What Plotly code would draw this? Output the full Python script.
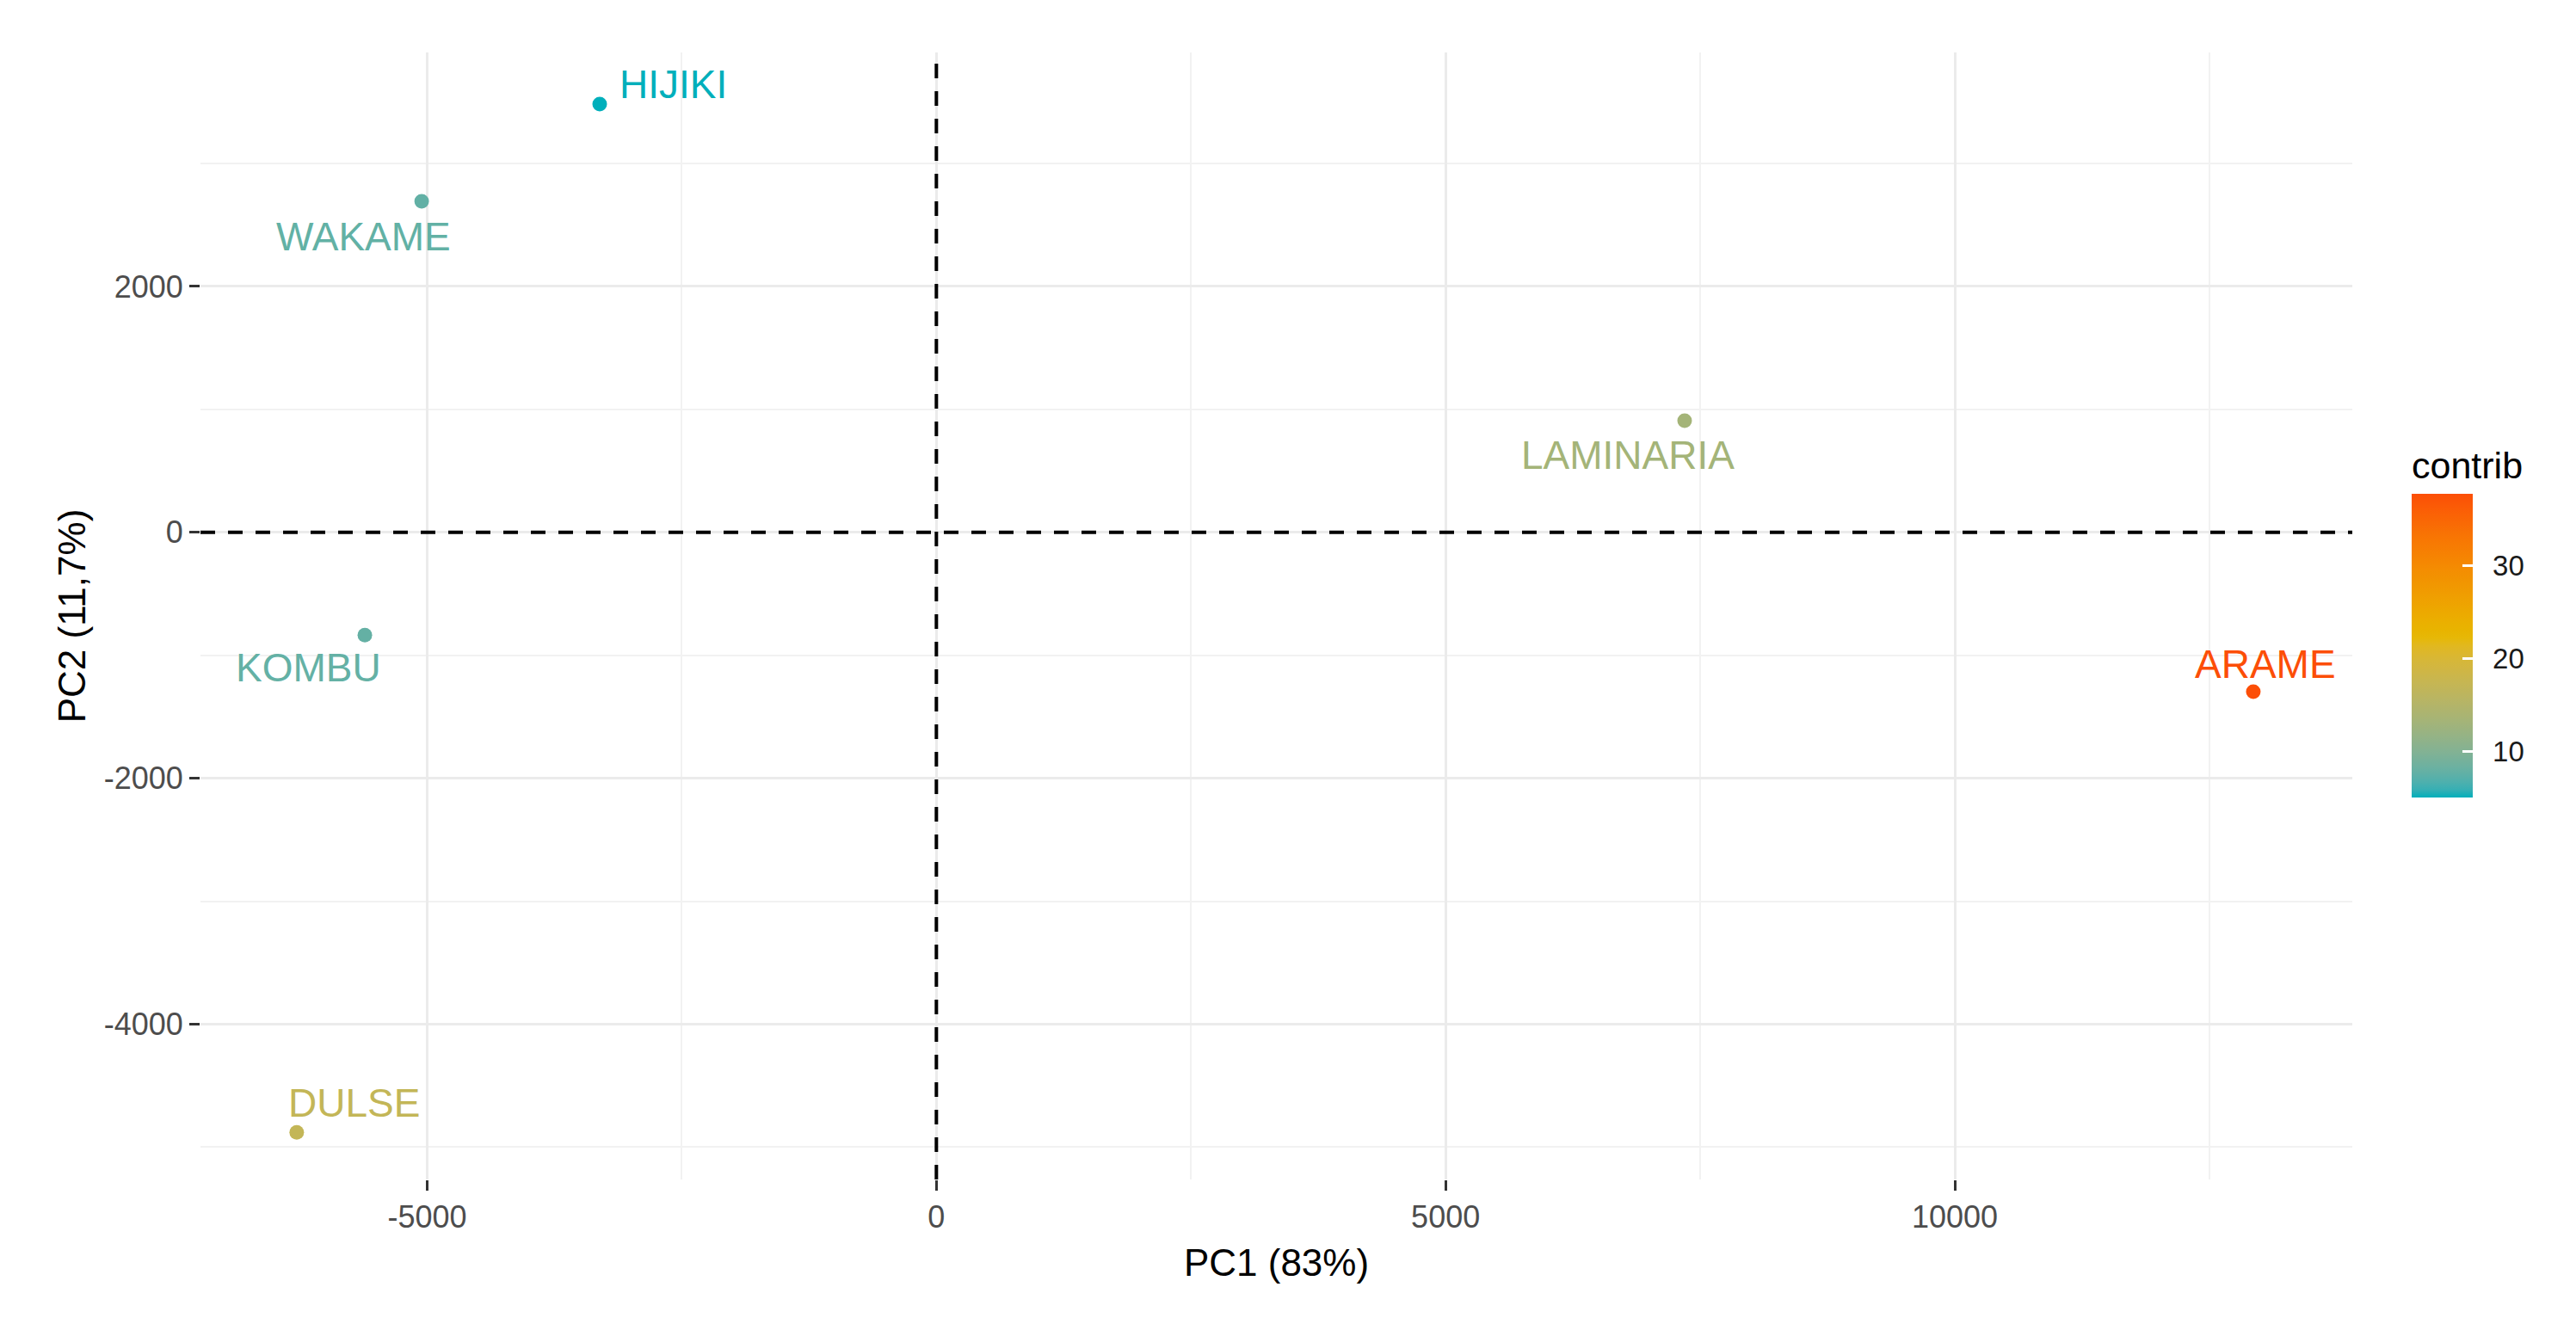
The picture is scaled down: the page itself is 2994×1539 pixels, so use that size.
import plotly.graph_objects as go

# ---- data ----
names = ["HIJIKI", "WAKAME", "KOMBU", "DULSE", "LAMINARIA", "ARAME"]
pc1 = [-3306, -5054, -5612, -6281, 7347, 12931]
pc2 = [3483, 2692, -835, -4880, 908, -1296]
contrib = [5.1, 7.8, 7.9, 17.0, 13.3, 37.7]

x_tickvals = [-5000, 0, 5000, 10000]
x_ticktext = ["-5000", "0", "5000", "10000"]
y_tickvals = [-4000, -2000, 0, 2000]
y_ticktext = ["-4000", "-2000", "0", "2000"]
cb_tickvals = [10, 20, 30]
cb_ticktext = ["10", "20", "30"]

# label offsets (pixels) relative to each point: (xshift, yshift, xanchor)
label_style = {
    "HIJIKI": (21, 23, "left"),
    "WAKAME": (-68, -41, "center"),
    "KOMBU": (-66, -38, "center"),
    "DULSE": (67, 34, "center"),
    "LAMINARIA": (-66, -40, "center"),
    "ARAME": (14, 32, "center"),
}

gradient_hex = ["#00AFBB", "#E7B800", "#FC4E07"]
gradient_pos = [0.0, 0.53, 1.0]


# ---- Lab interpolation (like ggplot's gradientn) ----
def _srgb_to_lin(c):
    c = c / 255.0
    return c / 12.92 if c <= 0.04045 else ((c + 0.055) / 1.055) ** 2.4


def _lin_to_srgb(c):
    c = max(0.0, min(1.0, c))
    v = 12.92 * c if c <= 0.0031308 else 1.055 * c ** (1 / 2.4) - 0.055
    return max(0, min(255, round(v * 255)))


WX, WY, WZ = 0.95047, 1.0, 1.08883


def hex_to_lab(h):
    r, g, b = (int(h[i:i + 2], 16) for i in (1, 3, 5))
    r, g, b = _srgb_to_lin(r), _srgb_to_lin(g), _srgb_to_lin(b)
    X = 0.4124 * r + 0.3576 * g + 0.1805 * b
    Y = 0.2126 * r + 0.7152 * g + 0.0722 * b
    Z = 0.0193 * r + 0.1192 * g + 0.9505 * b

    def f(t):
        return t ** (1 / 3) if t > 0.008856 else 7.787 * t + 16 / 116

    fx, fy, fz = f(X / WX), f(Y / WY), f(Z / WZ)
    return (116 * fy - 16, 500 * (fx - fy), 200 * (fy - fz))


def lab_to_rgb(L, a, b):
    fy = (L + 16) / 116
    fx = fy + a / 500
    fz = fy - b / 200

    def finv(t):
        return t ** 3 if t ** 3 > 0.008856 else (t - 16 / 116) / 7.787

    X, Y, Z = WX * finv(fx), WY * finv(fy), WZ * finv(fz)
    r = 3.2406 * X - 1.5372 * Y - 0.4986 * Z
    g = -0.9689 * X + 1.8758 * Y + 0.0415 * Z
    bb = 0.0557 * X - 0.2040 * Y + 1.0570 * Z
    return (_lin_to_srgb(r), _lin_to_srgb(g), _lin_to_srgb(bb))


labs = [hex_to_lab(h) for h in gradient_hex]


def color_at(t):
    t = max(0.0, min(1.0, t))
    for i in range(len(gradient_pos) - 1):
        p0, p1 = gradient_pos[i], gradient_pos[i + 1]
        if t <= p1:
            f = (t - p0) / (p1 - p0)
            L = [labs[i][k] + (labs[i + 1][k] - labs[i][k]) * f for k in range(3)]
            return "rgb(%d,%d,%d)" % lab_to_rgb(*L)
    return "rgb(%d,%d,%d)" % lab_to_rgb(*labs[-1])


NSTEP = 40
colorscale = [[i / NSTEP, color_at(i / NSTEP)] for i in range(NSTEP + 1)]
cmin, cmax = min(contrib), max(contrib)


def col_of(v):
    return color_at((v - cmin) / (cmax - cmin))


FONT = "Liberation Sans, Arial, sans-serif"
PAD = "\u2009\u2009\u200a"

fig = go.Figure()
fig.add_trace(go.Scatter(
    x=pc1, y=pc2, mode="markers", text=names,
    marker=dict(
        size=17, color=contrib, colorscale=colorscale, cmin=cmin, cmax=cmax,
        showscale=True,
        colorbar=dict(
            title=dict(text="contrib", side="top", font=dict(size=43, color="black", family=FONT)),
            thickness=71, thicknessmode="pixels",
            len=406, lenmode="pixels",
            x=1.0276, xanchor="left", y=0.4939, yanchor="middle",
            xpad=0, ypad=0,
            tickvals=cb_tickvals, ticktext=[PAD + t for t in cb_ticktext],
            ticks="inside", ticklen=12, tickcolor="white", tickwidth=3,
            tickfont=dict(size=33, color="#1A1A1A", family=FONT),
            outlinewidth=0,
        ),
        line=dict(width=0),
    ),
    showlegend=False,
    hoverinfo="text",
))

for n, x, y, c in zip(names, pc1, pc2, contrib):
    xs, ys, xa = label_style[n]
    fig.add_annotation(x=x, y=y, text=n, showarrow=False, xshift=xs, yshift=ys,
                       xanchor=xa, yanchor="middle",
                       font=dict(size=46, color=col_of(c), family=FONT))

fig.add_hline(y=0, line=dict(color="black", width=4, dash="17px,15px"))
fig.add_vline(x=0, line=dict(color="black", width=4, dash="17px,15px"))

axis_common = dict(
    showgrid=True, gridcolor="#EBEBEB", gridwidth=3,
    zeroline=False, showline=False,
    ticks="outside", ticklen=12, tickwidth=3, tickcolor="#333333",
    tickfont=dict(size=36, color="#4D4D4D", family=FONT),
)

fig.update_layout(
    width=2994, height=1539,
    paper_bgcolor="white", plot_bgcolor="white",
    margin=dict(l=225, r=268, t=53, b=176),
    font=dict(family=FONT),
    xaxis=dict(
        range=[-7226, 13903], tickvals=x_tickvals, ticktext=x_ticktext,
        minor=dict(showgrid=True, gridcolor="#F2F2F2", gridwidth=2, tickvals=[-2500, 2500, 7500, 12500]),
        title=dict(text="PC1 (83%)", font=dict(size=44, color="black", family=FONT), standoff=17),
        **axis_common,
    ),
    yaxis=dict(
        range=[-5263, 3903], tickvals=y_tickvals, ticktext=y_ticktext,
        minor=dict(showgrid=True, gridcolor="#F2F2F2", gridwidth=2, tickvals=[-5000, -3000, -1000, 1000, 3000]),
        title=dict(text="PC2 (11,7%)", font=dict(size=44, color="black", family=FONT), standoff=7),
        **axis_common,
    ),
)

fig.write_html("out.html")
